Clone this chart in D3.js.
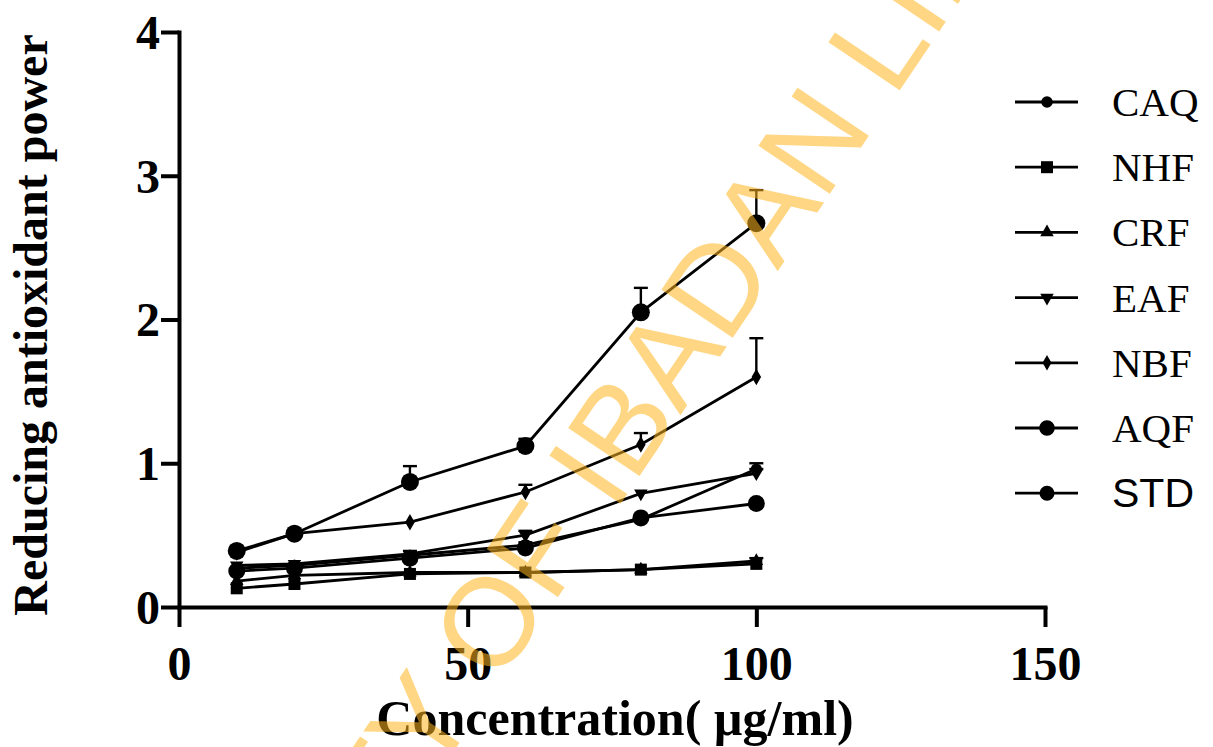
<!DOCTYPE html>
<html><head><meta charset="utf-8">
<script src="https://cdn.jsdelivr.net/npm/d3@7"></script>
<style>body{margin:0;background:#fff}svg{display:block}</style>
</head><body>
<svg id="c" width="1213" height="747"></svg>
<script>
const concentrations = [10, 20, 40, 60, 80, 100];
const seriesNames = ["CAQ", "NHF", "CRF", "EAF", "NBF", "AQF", "STD"];
const CAQ = [0.27, 0.29, 0.36, 0.43, 0.61, 0.96];
const NHF = [0.13, 0.16, 0.23, 0.24, 0.26, 0.30];
const CRF = [0.18, 0.22, 0.24, 0.24, 0.26, 0.32];
const EAF = [0.29, 0.30, 0.37, 0.50, 0.79, 0.93];
const NBF = [0.38, 0.51, 0.59, 0.80, 1.13, 1.60];
const AQF = [0.39, 0.51, 0.87, 1.12, 2.05, 2.67];
const STD = [0.25, 0.27, 0.34, 0.41, 0.62, 0.72];
const errCAQ = [0, 0, 0, 0.02, 0, 0.04];
const errNHF = [0, 0, 0, 0, 0, 0];
const errCRF = [0, 0, 0, 0, 0, 0.02];
const errEAF = [0, 0, 0.02, 0.03, 0, 0.03];
const errNBF = [0, 0, 0, 0.05, 0.08, 0.27];
const errAQF = [0, 0, 0.11, 0.05, 0.17, 0.23];
const errSTD = [0, 0, 0, 0, 0, 0];
const xTicks = [0, 50, 100, 150];
const yTicks = [0, 1, 2, 3, 4];
const xTitle = "Concentration( \u00b5g/ml)";
const yTitle = "Reducing antioxidant power";
const watermark = "UNIVERSITY OF IBADAN LIBRARY";

const values = {CAQ, NHF, CRF, EAF, NBF, AQF, STD};
const errors = {CAQ: errCAQ, NHF: errNHF, CRF: errCRF, EAF: errEAF, NBF: errNBF, AQF: errAQF, STD: errSTD};
const markers = {
  CAQ: {type: d3.symbolCircle, r: 5.5, lr: 5.8},
  NHF: {type: d3.symbolSquare, r: 6, lr: 6},
  CRF: {type: d3.symbolTriangle, r: 6, lr: 6},
  EAF: {type: d3.symbolTriangle, r: 6, lr: 6, flip: true},
  NBF: {type: d3.symbolDiamond, r: 7.5, lr: 7},
  AQF: {type: d3.symbolCircle, r: 9, lr: 7.8},
  STD: {type: d3.symbolCircle, r: 8.5, lr: 7.5}
};
function symArea(type, r){
  if (type === d3.symbolCircle) return Math.PI*r*r;
  if (type === d3.symbolSquare) return (2*r)*(2*r);
  if (type === d3.symbolDiamond) return 2*r*r*0.7;
  return r*r*2.2;
}

const svg = d3.select("#c");
const x = d3.scaleLinear().domain([0, 150]).range([179, 1045]);
const y = d3.scaleLinear().domain([0, 4]).range([607, 32]);
const serif = "'Liberation Serif','Times New Roman',serif";

// axes
const gx = svg.append("g").attr("transform", `translate(0,${y(0)})`)
  .call(d3.axisBottom(x).tickValues(xTicks).tickSize(20).tickSizeOuter(0).tickFormat(d3.format("d")));
const gy = svg.append("g").attr("transform", `translate(${x(0)},0)`)
  .call(d3.axisLeft(y).tickValues(yTicks).tickSize(18).tickSizeOuter(0).tickFormat(d3.format("d")));
[gx, gy].forEach(g => {
  g.select(".domain").attr("stroke", "#000").attr("stroke-width", 4).attr("stroke-linecap", "square");
  g.selectAll(".tick line").attr("stroke", "#000").attr("stroke-width", 4);
  g.selectAll(".tick text").attr("fill", "#000").style("font-family", serif)
    .style("font-weight", "bold").style("font-size", "48px");
});
gx.selectAll(".tick text").attr("y", 73).attr("dy", null);
gy.selectAll(".tick text").attr("x", -19).attr("dy", "0.34em");

// titles
svg.append("text").attr("x", 615).attr("y", 735).attr("text-anchor", "middle")
  .style("font-family", serif).style("font-weight", "bold").style("font-size", "50px").text(xTitle);
svg.append("text").attr("transform", "translate(47,325) rotate(-90)").attr("text-anchor", "middle")
  .style("font-family", serif).style("font-weight", "bold").style("font-size", "48px").text(yTitle);

// series
const line = d3.line().x(d => x(d[0])).y(d => y(d[1]));
const plot = svg.append("g");
seriesNames.forEach(name => {
  const pts = concentrations.map((c, i) => [c, values[name][i], errors[name][i]]);
  const g = plot.append("g");
  g.append("path").datum(pts).attr("d", line).attr("fill", "none").attr("stroke", "#000").attr("stroke-width", 2.8);
  pts.filter(p => p[2] > 0).forEach(p => {
    g.append("line").attr("x1", x(p[0])).attr("x2", x(p[0])).attr("y1", y(p[1])).attr("y2", y(p[1] + p[2]))
      .attr("stroke", "#000").attr("stroke-width", 2.4);
    g.append("line").attr("x1", x(p[0]) - 7).attr("x2", x(p[0]) + 7).attr("y1", y(p[1] + p[2])).attr("y2", y(p[1] + p[2]))
      .attr("stroke", "#000").attr("stroke-width", 2.4);
  });
  const m = markers[name];
  const sym = d3.symbol().type(m.type).size(symArea(m.type, m.r));
  g.selectAll("path.m").data(pts).join("path").attr("class", "m")
    .attr("d", sym).attr("fill", "#000")
    .attr("transform", p => `translate(${x(p[0])},${y(p[1])})${m.flip ? " rotate(180)" : ""}`);
});

// legend
const leg = svg.append("g");
seriesNames.forEach((name, i) => {
  const cy = 102 + i * 65.2;
  leg.append("line").attr("x1", 1015).attr("x2", 1078).attr("y1", cy).attr("y2", cy)
    .attr("stroke", "#000").attr("stroke-width", 2.8);
  const m = markers[name];
  leg.append("path").attr("d", d3.symbol().type(m.type).size(symArea(m.type, m.lr))).attr("fill", "#000")
    .attr("transform", `translate(1047,${cy})${m.flip ? " rotate(180)" : ""}`);
  leg.append("text").attr("x", 1112).attr("y", cy + 14)
    .style("font-family", name === "STD" ? "'Liberation Sans',Arial,sans-serif" : serif)
    .style("font-size", "41px").attr("fill", "#000").text(name);
});

// watermark
svg.append("text").attr("transform", "translate(626,496) rotate(-56)").attr("text-anchor", "middle")
  .style("font-family", "'Liberation Sans',Arial,sans-serif").style("font-size", "125px")
  .attr("fill", "rgb(255,180,30)").attr("fill-opacity", 0.55).text(watermark);
</script>
</body></html>
